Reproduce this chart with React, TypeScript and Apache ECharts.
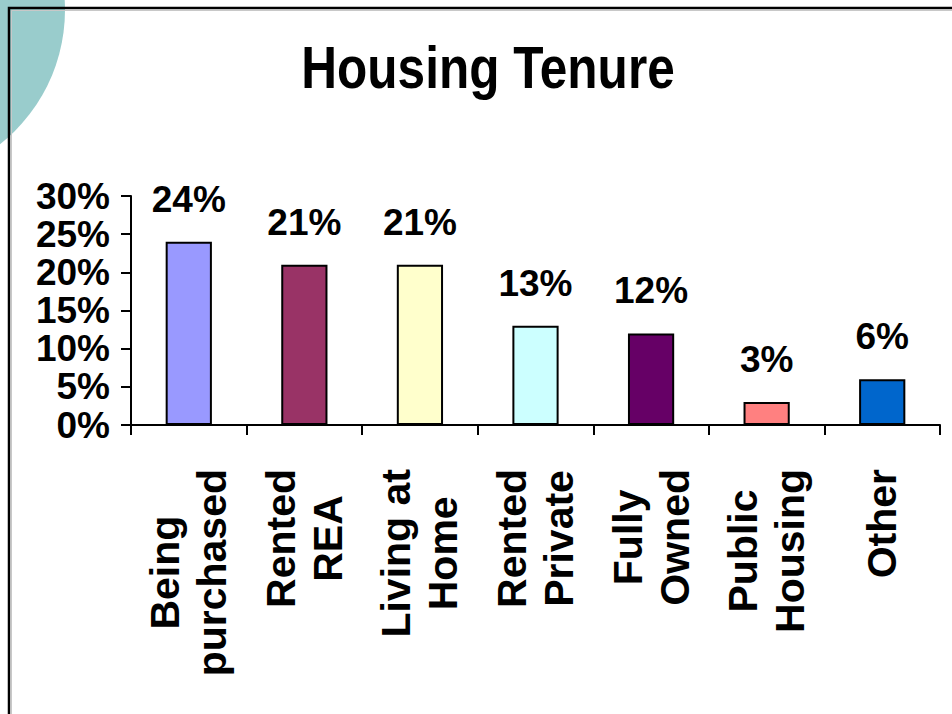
import React, { useEffect, useRef } from 'react';
import * as echarts from 'echarts';

const categories = [
  'Being\npurchased',
  'Rented\nREA',
  'Living at\nHome',
  'Rented\nPrivate',
  'Fully\nOwned',
  'Public\nHousing',
  'Other',
];
const values = [24, 21, 21, 13, 12, 3, 6];
const barColors = ['#9999FF', '#993366', '#FFFFCC', '#CCFFFF', '#660066', '#FF8080', '#0066CC'];
const yMin = 0;
const yMax = 30;
const yStep = 5;
const titleText = 'Housing Tenure';

const FONT = "'Liberation Sans', Arial, sans-serif";

export default function App() {
  const ref = useRef<HTMLDivElement>(null);
  useEffect(() => {
    if (!ref.current) return;
    const chart = echarts.init(ref.current, undefined, { renderer: 'svg' });
    chart.setOption({
      animation: false,
      backgroundColor: '#ffffff',
      graphic: [
        { type: 'circle', z: 0, shape: { cx: -106, cy: 10, r: 171 }, style: { fill: '#99CCCC' } },
        {
          type: 'polyline', z: 1,
          shape: { points: [[11.5, 714], [11.5, 10.5], [952, 10.5]] },
          style: { stroke: '#c8c8c8', lineWidth: 1, fill: 'none' },
        },
        {
          type: 'polyline', z: 2,
          shape: { points: [[9, 714], [9, 8], [952, 8]] },
          style: { stroke: '#000', lineWidth: 2.5, fill: 'none' },
        },
        {
          type: 'text', z: 3,
          x: 488,
          y: 38,
          scaleX: 0.84,
          style: {
            text: titleText,
            fontFamily: FONT,
            fontWeight: 'bold',
            fontSize: 59,
            fill: '#000',
            align: 'center',
            verticalAlign: 'top',
            textAlign: 'center',
            textVerticalAlign: 'top',
          },
        },
      ],
      grid: { left: 131, right: 12, top: 196, bottom: 289, containLabel: false },
      xAxis: {
        type: 'category',
        data: categories,
        boundaryGap: true,
        axisLine: { show: true, lineStyle: { color: '#000', width: 2 } },
        axisTick: { show: true, length: 10, alignWithLabel: false, lineStyle: { color: '#000', width: 2 } },
        axisLabel: {
          interval: 0,
          rotate: 90,
          margin: 44,
          formatter: (v: string) => v.split('\n').map((l) => `{c|${l}}`).join('\n'),
          rich: {
            c: { fontFamily: FONT, fontWeight: 'bold', fontSize: 41, lineHeight: 47, color: '#000', align: 'center' },
          },
        },
        splitLine: { show: false },
      },
      yAxis: {
        type: 'value',
        min: yMin,
        max: yMax,
        interval: yStep,
        axisLine: { show: true, lineStyle: { color: '#000', width: 2 } },
        axisTick: { show: true, length: 10, lineStyle: { color: '#000', width: 2 } },
        axisLabel: {
          formatter: '{value}%',
          margin: 21,
          showMinLabel: true,
          showMaxLabel: true,
          hideOverlap: false,
          fontFamily: FONT,
          fontWeight: 'bold',
          fontSize: 37,
          lineHeight: 30,
          color: '#000',
        },
        splitLine: { show: false },
      },
      series: [
        {
          type: 'bar',
          barWidth: '40%',
          data: values.map((v, i) => ({
            value: v,
            itemStyle: { color: barColors[i], borderColor: '#000', borderWidth: 2 },
          })),
          label: {
            show: true,
            position: 'top',
            distance: 24,
            formatter: '{c}%',
            fontFamily: FONT,
            fontWeight: 'bold',
            fontSize: 37,
            color: '#000',
          },
        },
      ],
    });
    return () => chart.dispose();
  }, []);
  return (
    <div
      ref={ref}
      style={{ position: 'fixed', left: 0, top: 0, width: 952, height: 714 }}
    />
  );
}
